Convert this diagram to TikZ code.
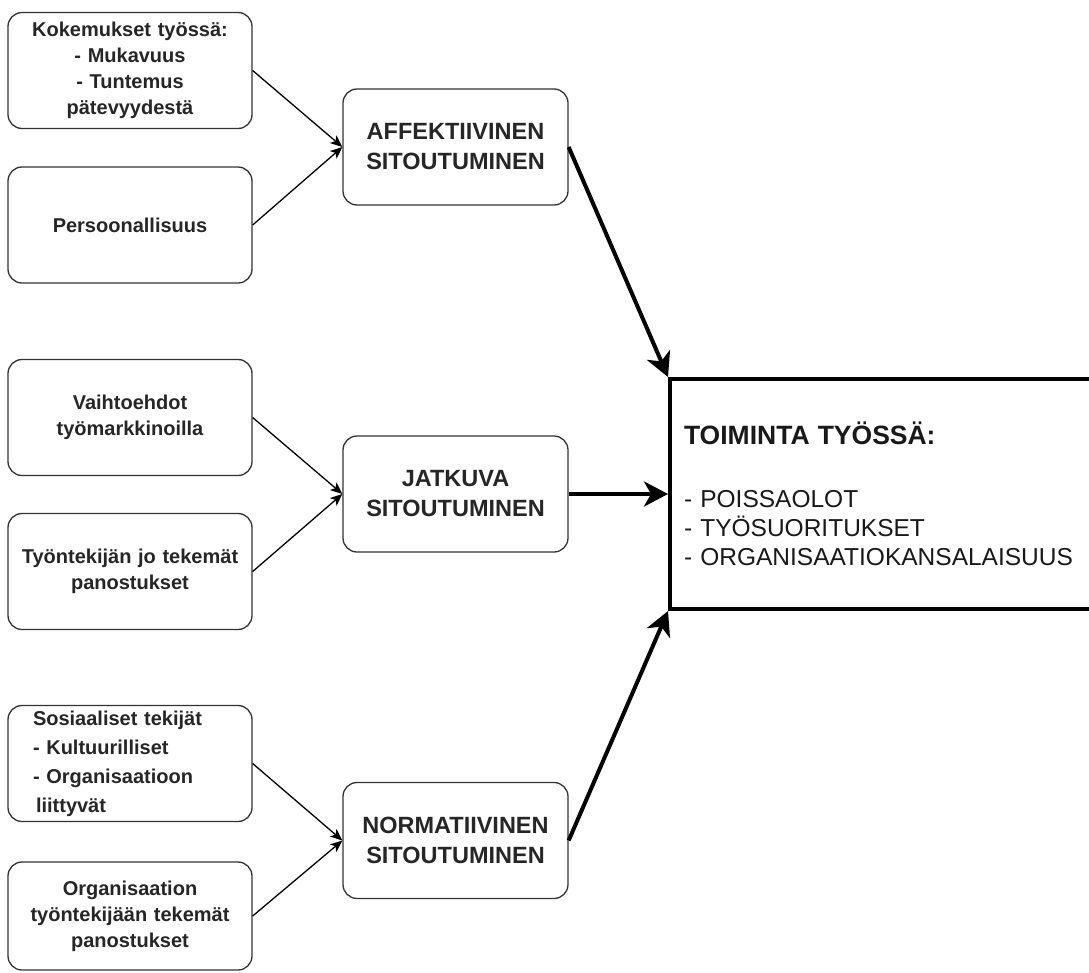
\documentclass[tikz,border=0pt]{standalone}
\usepackage{fontspec}
\setmainfont{Liberation Sans}
\usetikzlibrary{arrows.meta}
\tikzset{
  causebox/.style={draw=black!80, line width=1.3pt, rounded corners=14pt, minimum width=244pt, minimum height=116pt, text width=230pt, inner sep=0pt, align=center, text=black!85, font=\fontsize{20}{26}\selectfont\bfseries},
  commitbox/.style={draw=black!80, line width=1.3pt, rounded corners=14pt, minimum width=225pt, minimum height=116pt, align=center, text=black!85, font=\fontsize{23.5}{30}\selectfont\bfseries},
  outcomebox/.style={draw, line width=4pt, minimum width=432pt, minimum height=230pt, text width=404pt, inner xsep=14pt, align=left, text=black!90, font=\fontsize{24.5}{29}\selectfont},
  thinarrow/.style={line width=1.3pt, -{Stealth[length=12pt,width=10pt,inset=3pt]}},
  thickarrow/.style={line width=4pt, -{Stealth[length=24pt,width=25pt,inset=7pt]}}
}
\begin{document}
\begin{tikzpicture}[x=1pt,y=-1pt]
\clip (0,0) rectangle (1089,972);
\fill[white] (0,0) rectangle (1089,972);
\foreach \n/\y/\t in {kokemus/70.5/{Kokemukset työssä:\\- Mukavuus\\- Tuntemus\\pätevyydestä},persoona/225/{Persoonallisuus},vaihto/417.5/{Vaihtoehdot\\työmarkkinoilla},panos/571.5/{Työntekijän jo tekemät\\panostukset}}
  \node[causebox] (\n) at (130,\y) {\t};
\node[causebox, text width=194pt, align=left, font=\fontsize{20}{29}\selectfont\bfseries] (sosiaali) at (130,763.5) {Sosiaaliset tekijät\\- Kultuurilliset\\- Organisaatioon\\\hspace*{3pt}liittyvät};
\node[causebox, minimum height=108pt] (orgpanos) at (130,916) {Organisaation\\työntekijään tekemät\\panostukset};
\node[commitbox] (aff) at (455.5,147) {AFFEKTIIVINEN\\SITOUTUMINEN};
\node[commitbox] (jatk) at (455.5,494) {JATKUVA\\SITOUTUMINEN};
\node[commitbox] (norm) at (455.5,840.5) {NORMATIIVINEN\\SITOUTUMINEN};
\node[outcomebox] (toiminta) at (886,494) {{\fontsize{26.5}{29}\selectfont\bfseries TOIMINTA TYÖSSÄ:}\\[34pt]- POISSAOLOT\\- TYÖSUORITUKSET\\- ORGANISAATIOKANSALAISUUS};
\foreach \a/\b in {kokemus/aff,persoona/aff,vaihto/jatk,panos/jatk,sosiaali/norm,orgpanos/norm}
  \draw[thinarrow] (\a.east) -- (\b.west);
\draw[thickarrow] (aff.east) -- (toiminta.north west);
\draw[thickarrow] (jatk.east) -- (toiminta.west);
\draw[thickarrow] (norm.east) -- (toiminta.south west);
\end{tikzpicture}
\end{document}
